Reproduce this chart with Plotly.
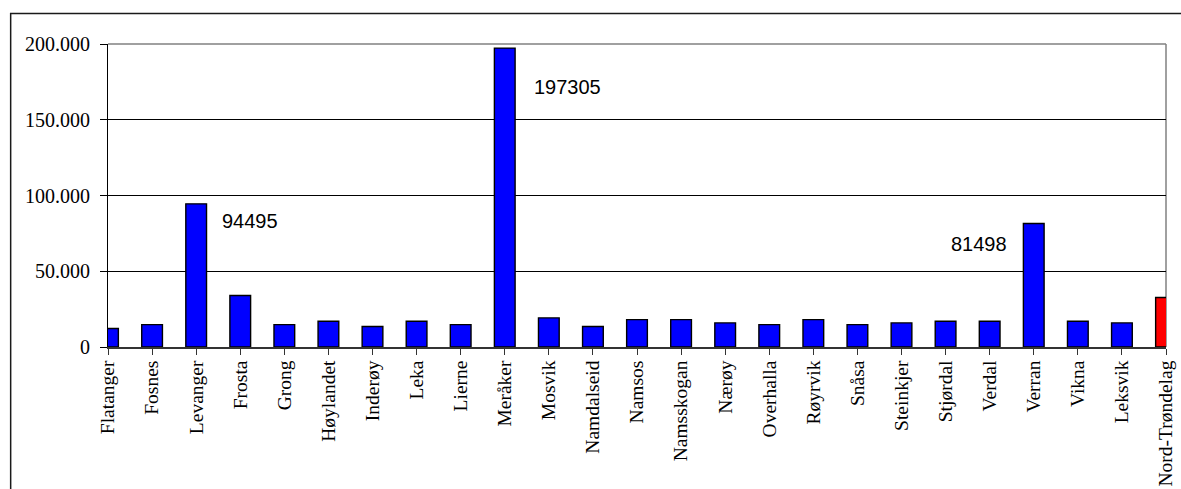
import plotly.graph_objects as go

categories = ["Flatanger", "Fosnes", "Levanger", "Frosta", "Grong", "Høylandet",
              "Inderøy", "Leka", "Lierne", "Meråker", "Mosvik", "Namdalseid",
              "Namsos", "Namsskogan", "Nærøy", "Overhalla", "Røyrvik", "Snåsa",
              "Steinkjer", "Stjørdal", "Verdal", "Verran", "Vikna", "Leksvik",
              "Nord-Trøndelag"]
values = [12200, 14800, 94495, 34000, 14800, 17000,
          13500, 17000, 14800, 197305, 19200, 13500,
          18100, 18100, 15900, 14800, 18100, 14800,
          15900, 17000, 17000, 81498, 17000, 15900,
          32700]
highlight = "Nord-Trøndelag"
labelled = ["Levanger", "Meråker", "Verran"]
label_text = ["94495", "197305", "81498"]

ytick_vals = [0, 50000, 100000, 150000, 200000]
ytick_text = ["0", "50.000", "100.000", "150.000", "200.000"]

colors = ["#FF0000" if c == highlight else "#0000FF" for c in categories]

fig = go.Figure()
fig.add_trace(go.Bar(
    x=categories, y=values,
    marker=dict(color=colors, line=dict(color="black", width=1.4)),
    width=0.47,
    hoverinfo="x+y",
))

# data labels
label_side = {"Levanger": ("left", 24, -17), "Meråker": ("left", 27, -39), "Verran": ("right", -25, -20)}
for name, txt in zip(labelled, label_text):
    v = values[categories.index(name)]
    anchor, xs, ys = label_side[name]
    fig.add_annotation(x=name, y=v, text=txt, showarrow=False,
                       xanchor=anchor, yanchor="middle", xshift=xs, yshift=ys,
                       font=dict(family="Liberation Sans, Arial", size=20, color="black"))

serif = "Liberation Serif, Times New Roman, serif"

fig.update_layout(
    width=1181, height=489,
    margin=dict(l=108, r=15, t=44, b=142),
    paper_bgcolor="white", plot_bgcolor="white",
    showlegend=False,
    bargap=0.53,
    xaxis=dict(
        type="category", range=[0, 24], automargin=False,
        tickangle=-90, ticks="outside", ticklen=6, tickcolor="#333333",
        showline=True, linecolor="#333333", linewidth=1.5,
        showgrid=False,
        tickfont=dict(family=serif, size=19.5, color="black"),
        ticklabelstandoff=-2,
    ),
    yaxis=dict(
        range=[0, 200000], tickvals=ytick_vals, ticktext=ytick_text,
        automargin=False,
        ticks="outside", ticklen=7, tickcolor="black",
        showline=True, linecolor="black", linewidth=1,
        showgrid=True, gridcolor="black", gridwidth=1,
        zeroline=False,
        tickfont=dict(family=serif, size=20, color="black"),
        ticklabelstandoff=6,
    ),
    shapes=[
        # plot area border (gray, top and right)
        dict(type="line", xref="paper", yref="paper", x0=0, x1=1, y0=1, y1=1,
             line=dict(color="#808080", width=1.5), layer="above"),
        dict(type="line", xref="paper", yref="paper", x0=1, x1=1, y0=0, y1=1,
             line=dict(color="#808080", width=1.5), layer="below"),
        # outer chart frame
        dict(type="rect", xref="paper", yref="paper", x0=-0.092, x1=1.2, y0=-0.7, y1=1.101,
             line=dict(color="#1a1a1a", width=1.5), fillcolor="rgba(0,0,0,0)", layer="above"),
    ],
)

fig.write_html("out.html", config={"displayModeBar": False},
               post_script="document.body.style.margin='0';document.body.style.overflow='hidden';")
